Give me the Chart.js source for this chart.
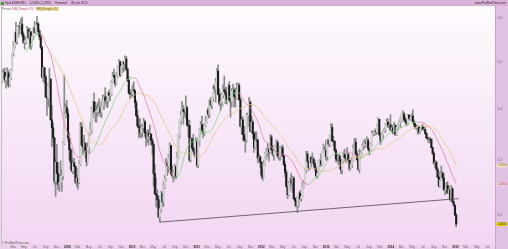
<!DOCTYPE html>
<html>
<head>
<meta charset="utf-8">
<script src="https://cdn.jsdelivr.net/npm/chart.js"></script>
<style>
  html, body { margin: 0; padding: 0; background: #e4c4e4; }
  #wrap { position: relative; width: 508px; height: 249px; overflow: hidden; font-family: "Liberation Sans", Arial, sans-serif; }
  canvas { display: block; }
  .txt { position: absolute; white-space: nowrap; font-size: 3px; line-height: 4px; color: #333; }
  .ico { display: inline-block; width: 3px; height: 3px; background: #3a9a3a; margin-right: 1px; vertical-align: -0.5px; }
  .gap { display: inline-block; width: 4px; }
  .pk { color: #c0506e; margin-left: 1px; }
  .yl { color: #7a6420; background: #efe0a6; margin-left: 2px; padding: 0 1px; }
</style>
</head>
<body>
<div id="wrap">
  <canvas id="chart" width="508" height="249"></canvas>
  <div class="txt" style="left:1px;top:1px"><span class="ico"></span>Spot EUR/USD<span class="gap"></span>1,1840 (-1,33%)<span class="gap"></span>Semanal<span class="gap"></span>09 ene 2015</div>
  <div class="txt" style="left:2px;top:6.5px;color:#666">Precio:<span class="pk">MM (Simple 20)</span><span class="yl">MM (Simple 40)</span></div>
  <div class="txt" style="right:2px;top:1px">www.ProRealTime.com</div>
  <div class="txt" style="left:2px;top:241px;color:#555">© ProRealTime.com</div>
</div>
<script>
  // EUR/USD weekly candles, week 0 = 31 dic 2007 ... week 366 = 05 ene 2015
  var opens = [
    1.4590,1.4760,1.4780,1.4620,1.4680,1.4770,1.4500,1.4670,1.4820,1.5190,
    1.5350,1.5660,1.5450,1.5790,1.5820,1.5800,1.5860,1.5620,1.5440,1.5470,
    1.5500,1.5730,1.5550,1.5680,1.5360,1.5580,1.5760,1.5660,1.5870,1.5860,
    1.5690,1.5560,1.5330,1.4680,1.4880,1.4680,1.4260,1.4230,1.4480,1.4630,
    1.3790,1.3630,1.3430,1.2610,1.2960,1.2750,1.2550,1.2580,1.2690,1.2710,
    1.3320,1.3890,1.4040,1.3920,1.3430,1.3200,1.2970,1.2800,1.2950,1.2880,
    1.2590,1.2660,1.2580,1.2920,1.3650,1.3290,1.3260,1.3320,1.3180,1.2970,
    1.3250,1.3490,1.3590,1.4000,1.4150,1.3950,1.3950,1.3960,1.4000,1.4040,
    1.3940,1.4070,1.4190,1.4260,1.4180,1.4180,1.4330,1.4290,1.4300,1.4570,
    1.4720,1.4680,1.4540,1.4700,1.4900,1.5010,1.4720,1.4910,1.5000,1.4960,
    1.5070,1.4850,1.4610,1.4340,1.4330,1.4320,1.4410,1.4380,1.4140,1.3870,
    1.3670,1.3630,1.3530,1.3630,1.3640,1.3750,1.3530,1.3420,1.3520,1.3460,
    1.3500,1.3380,1.3300,1.2750,1.2380,1.2350,1.2270,1.1970,1.2110,1.2390,
    1.2230,1.2510,1.2640,1.2940,1.2890,1.3050,1.3280,1.2750,1.2710,1.2760,
    1.2880,1.2700,1.3050,1.3490,1.3780,1.3880,1.4000,1.3960,1.3940,1.4040,
    1.3690,1.3670,1.3000,1.3410,1.3230,1.3180,1.3100,1.3360,1.2910,1.3380,
    1.3610,1.3690,1.3590,1.3530,1.3680,1.3750,1.3990,1.3900,1.4180,1.4090,
    1.4230,1.4470,1.4430,1.4580,1.4810,1.4310,1.4130,1.4160,1.4300,1.4410,
    1.4370,1.4300,1.4190,1.4500,1.4200,1.4150,1.4380,1.4400,1.4270,1.4240,
    1.4380,1.4500,1.4200,1.3660,1.3790,1.3500,1.3390,1.3380,1.3880,1.3890,
    1.4150,1.3560,1.3740,1.3520,1.3240,1.3390,1.3380,1.3040,1.3060,1.2960,
    1.2720,1.2680,1.2930,1.3130,1.3150,1.3200,1.3150,1.3450,1.3200,1.3120,
    1.3180,1.3270,1.3340,1.3080,1.3080,1.3230,1.3240,1.3080,1.2920,1.2770,
    1.2510,1.2360,1.2570,1.2640,1.2570,1.2660,1.2290,1.2250,1.2160,1.2320,
    1.2390,1.2290,1.2330,1.2510,1.2580,1.2820,1.3120,1.2980,1.2860,1.3040,
    1.2950,1.3020,1.2940,1.2840,1.2710,1.2750,1.2980,1.2990,1.2930,1.3160,
    1.3180,1.3190,1.3070,1.3380,1.3310,1.3460,1.3640,1.3370,1.3360,1.3190,
    1.3020,1.3000,1.3080,1.2990,1.2820,1.2990,1.3110,1.3050,1.3030,1.3110,
    1.2990,1.2840,1.2930,1.2990,1.3220,1.3350,1.3120,1.3010,1.2830,1.3070,
    1.3140,1.3280,1.3280,1.3340,1.3330,1.3380,1.3220,1.3180,1.3300,1.3520,
    1.3520,1.3560,1.3550,1.3680,1.3800,1.3490,1.3370,1.3500,1.3560,1.3590,
    1.3700,1.3740,1.3670,1.3690,1.3590,1.3630,1.3540,1.3680,1.3490,1.3640,
    1.3690,1.3740,1.3800,1.3910,1.3910,1.3790,1.3750,1.3700,1.3880,1.3810,
    1.3830,1.3870,1.3750,1.3700,1.3630,1.3630,1.3640,1.3540,1.3610,1.3650,
    1.3600,1.3600,1.3520,1.3430,1.3410,1.3410,1.3400,1.3240,1.3130,1.2950,
    1.2960,1.2830,1.2680,1.2520,1.2630,1.2760,1.2670,1.2450,1.2450,1.2530,
    1.2390,1.2450,1.2290,1.2470,1.2230,1.2170,1.2000
  ];
  var highs = [
    1.4820,1.4860,1.4870,1.4750,1.4880,1.4830,1.4700,1.4850,1.5200,1.5460,
    1.5680,1.5900,1.5820,1.5830,1.5910,1.5980,1.6020,1.5680,1.5570,1.5560,
    1.5800,1.5760,1.5770,1.5690,1.5600,1.5780,1.5920,1.5880,1.6040,1.5900,
    1.5730,1.5610,1.5350,1.4900,1.4880,1.4720,1.4290,1.4550,1.4870,1.4650,
    1.4080,1.3730,1.3450,1.3020,1.3300,1.2950,1.2720,1.2990,1.2820,1.3360,
    1.4720,1.4120,1.4190,1.4000,1.3530,1.3240,1.3200,1.3040,1.3030,1.2900,
    1.2850,1.2720,1.3000,1.3740,1.3730,1.3410,1.3480,1.3350,1.3250,1.3340,
    1.3520,1.3740,1.4050,1.4170,1.4340,1.4160,1.4090,1.4140,1.4220,1.4080,
    1.4170,1.4300,1.4290,1.4450,1.4270,1.4350,1.4400,1.4360,1.4600,1.4780,
    1.4850,1.4710,1.4780,1.4920,1.5060,1.5030,1.4950,1.5010,1.5020,1.5140,
    1.5130,1.4860,1.4690,1.4400,1.4420,1.4510,1.4580,1.4410,1.4190,1.3990,
    1.3800,1.3820,1.3690,1.3700,1.3820,1.3780,1.3540,1.3590,1.3590,1.3690,
    1.3520,1.3420,1.3330,1.2920,1.2670,1.2450,1.2330,1.2140,1.2420,1.2390,
    1.2600,1.2720,1.3030,1.3000,1.3110,1.3330,1.3290,1.2900,1.2800,1.2920,
    1.2890,1.3160,1.3500,1.3790,1.3970,1.4160,1.4080,1.4020,1.4280,1.4070,
    1.3790,1.3780,1.3430,1.3440,1.3500,1.3240,1.3440,1.3390,1.3390,1.3620,
    1.3760,1.3860,1.3700,1.3710,1.3860,1.4000,1.4040,1.4200,1.4250,1.4250,
    1.4490,1.4520,1.4650,1.4860,1.4940,1.4430,1.4350,1.4320,1.4520,1.4700,
    1.4450,1.4460,1.4510,1.4580,1.4230,1.4430,1.4530,1.4450,1.4440,1.4550,
    1.4550,1.4550,1.4250,1.3850,1.3850,1.3660,1.3460,1.3920,1.3930,1.4250,
    1.4180,1.3870,1.3790,1.3550,1.3550,1.3550,1.3410,1.3120,1.3080,1.2980,
    1.2830,1.3000,1.3150,1.3230,1.3320,1.3240,1.3490,1.3490,1.3280,1.3220,
    1.3290,1.3390,1.3380,1.3200,1.3260,1.3270,1.3290,1.3110,1.2980,1.2820,
    1.2520,1.2600,1.2670,1.2750,1.2700,1.2690,1.2320,1.2310,1.2330,1.2400,
    1.2440,1.2360,1.2590,1.2620,1.2830,1.3170,1.3170,1.3000,1.3060,1.3080,
    1.3140,1.3050,1.3000,1.2880,1.2800,1.2990,1.3010,1.3120,1.3170,1.3310,
    1.3260,1.3380,1.3400,1.3410,1.3480,1.3710,1.3710,1.3460,1.3380,1.3220,
    1.3130,1.3120,1.3100,1.3020,1.3000,1.3140,1.3210,1.3110,1.3240,1.3140,
    1.3000,1.3000,1.3060,1.3300,1.3420,1.3420,1.3180,1.3080,1.3210,1.3180,
    1.3300,1.3350,1.3400,1.3390,1.3450,1.3420,1.3230,1.3330,1.3570,1.3560,
    1.3590,1.3610,1.3700,1.3830,1.3800,1.3530,1.3530,1.3580,1.3620,1.3720,
    1.3810,1.3810,1.3720,1.3890,1.3680,1.3690,1.3740,1.3690,1.3650,1.3710,
    1.3770,1.3830,1.3920,1.3970,1.3940,1.3850,1.3810,1.3900,1.3900,1.3870,
    1.3910,1.3993,1.3790,1.3730,1.3670,1.3680,1.3650,1.3620,1.3670,1.3700,
    1.3650,1.3640,1.3530,1.3450,1.3440,1.3440,1.3410,1.3250,1.3160,1.2990,
    1.2990,1.2860,1.2700,1.2790,1.2890,1.2780,1.2750,1.2530,1.2580,1.2600,
    1.2530,1.2460,1.2530,1.2490,1.2250,1.2180,1.2030
  ];
  var lows = [
    1.4560,1.4660,1.4570,1.4440,1.4650,1.4460,1.4470,1.4620,1.4810,1.5130,
    1.5310,1.5420,1.5400,1.5560,1.5630,1.5740,1.5570,1.5420,1.5290,1.5400,
    1.5490,1.5510,1.5310,1.5280,1.5350,1.5500,1.5650,1.5640,1.5850,1.5620,
    1.5500,1.5290,1.4660,1.4580,1.4540,1.4250,1.3880,1.4050,1.4440,1.3780,
    1.3260,1.3350,1.2550,1.2330,1.2550,1.2450,1.2420,1.2560,1.2420,1.2640,
    1.3300,1.3820,1.3860,1.3360,1.3020,1.2830,1.2780,1.2740,1.2780,1.2560,
    1.2510,1.2460,1.2560,1.2900,1.3250,1.3110,1.3160,1.3040,1.2890,1.2960,
    1.3120,1.3470,1.3510,1.3830,1.3930,1.3750,1.3740,1.3870,1.3930,1.3860,
    1.3830,1.4050,1.4000,1.4130,1.4050,1.4040,1.4170,1.4180,1.4280,1.4550,
    1.4580,1.4480,1.4520,1.4670,1.4830,1.4680,1.4710,1.4770,1.4800,1.4830,
    1.4820,1.4580,1.4310,1.4220,1.4270,1.4250,1.4360,1.4030,1.3860,1.3640,
    1.3440,1.3440,1.3430,1.3450,1.3550,1.3460,1.3270,1.3340,1.3290,1.3400,
    1.3290,1.3110,1.2520,1.2360,1.2140,1.2140,1.1950,1.1876,1.2050,1.2150,
    1.2150,1.2470,1.2610,1.2710,1.2770,1.3010,1.2730,1.2670,1.2590,1.2660,
    1.2650,1.2700,1.3030,1.3430,1.3680,1.3870,1.3700,1.3860,1.3810,1.3650,
    1.3450,1.2970,1.2970,1.3170,1.3150,1.3060,1.3080,1.2870,1.2860,1.3270,
    1.3510,1.3580,1.3430,1.3480,1.3650,1.3730,1.3830,1.3830,1.4060,1.4010,
    1.4160,1.4340,1.4150,1.4570,1.4300,1.4080,1.3970,1.4060,1.4240,1.4340,
    1.4120,1.4110,1.4190,1.4180,1.3840,1.4050,1.4320,1.4050,1.4050,1.4210,
    1.4300,1.4190,1.3650,1.3500,1.3370,1.3360,1.3150,1.3350,1.3650,1.3770,
    1.3550,1.3530,1.3420,1.3150,1.3220,1.3260,1.2950,1.2990,1.2860,1.2660,
    1.2620,1.2670,1.2900,1.3020,1.3080,1.2980,1.3130,1.3170,1.3080,1.3000,
    1.3150,1.3250,1.3040,1.3000,1.3000,1.3120,1.3060,1.2890,1.2690,1.2500,
    1.2290,1.2340,1.2440,1.2520,1.2400,1.2270,1.2170,1.2140,1.2042,1.2140,
    1.2270,1.2240,1.2320,1.2480,1.2560,1.2760,1.2950,1.2800,1.2830,1.2870,
    1.2950,1.2880,1.2800,1.2680,1.2660,1.2740,1.2880,1.2880,1.2920,1.3160,
    1.3150,1.3000,1.3000,1.3260,1.3260,1.3430,1.3360,1.3270,1.3160,1.2970,
    1.2960,1.2920,1.2840,1.2750,1.2740,1.2950,1.2990,1.2950,1.3020,1.2970,
    1.2800,1.2830,1.2860,1.2970,1.3220,1.3110,1.2990,1.2810,1.2760,1.3030,
    1.3120,1.3190,1.3230,1.3250,1.3310,1.3180,1.3100,1.3170,1.3290,1.3470,
    1.3480,1.3490,1.3500,1.3680,1.3480,1.3300,1.3360,1.3400,1.3540,1.3540,
    1.3690,1.3630,1.3660,1.3570,1.3550,1.3510,1.3510,1.3480,1.3480,1.3580,
    1.3680,1.3640,1.3740,1.3820,1.3760,1.3720,1.3670,1.3690,1.3780,1.3780,
    1.3820,1.3740,1.3650,1.3620,1.3590,1.3500,1.3530,1.3520,1.3570,1.3590,
    1.3570,1.3500,1.3420,1.3370,1.3330,1.3340,1.3230,1.3110,1.2920,1.2860,
    1.2810,1.2670,1.2500,1.2500,1.2620,1.2620,1.2440,1.2360,1.2400,1.2380,
    1.2390,1.2250,1.2270,1.2220,1.2160,1.1990,1.1790
  ];
  var closes = [
    1.4760,1.4780,1.4620,1.4680,1.4770,1.4500,1.4670,1.4820,1.5190,1.5350,
    1.5660,1.5450,1.5790,1.5820,1.5800,1.5860,1.5620,1.5440,1.5470,1.5500,
    1.5730,1.5550,1.5680,1.5360,1.5580,1.5760,1.5660,1.5870,1.5860,1.5690,
    1.5560,1.5330,1.4680,1.4880,1.4680,1.4260,1.4230,1.4480,1.4630,1.3790,
    1.3630,1.3430,1.2610,1.2960,1.2750,1.2550,1.2580,1.2690,1.2710,1.3320,
    1.3890,1.4040,1.3920,1.3430,1.3200,1.2970,1.2800,1.2950,1.2880,1.2590,
    1.2660,1.2580,1.2920,1.3650,1.3290,1.3260,1.3320,1.3180,1.2970,1.3250,
    1.3490,1.3590,1.4000,1.4150,1.3950,1.3950,1.3960,1.4000,1.4040,1.3940,
    1.4070,1.4190,1.4260,1.4180,1.4180,1.4330,1.4290,1.4300,1.4570,1.4720,
    1.4680,1.4540,1.4700,1.4900,1.5010,1.4720,1.4910,1.5000,1.4960,1.5070,
    1.4850,1.4610,1.4340,1.4330,1.4320,1.4410,1.4380,1.4140,1.3870,1.3670,
    1.3630,1.3530,1.3630,1.3640,1.3750,1.3530,1.3420,1.3520,1.3460,1.3500,
    1.3380,1.3300,1.2750,1.2380,1.2350,1.2270,1.1970,1.2110,1.2390,1.2230,
    1.2510,1.2640,1.2940,1.2890,1.3050,1.3280,1.2750,1.2710,1.2760,1.2880,
    1.2700,1.3050,1.3490,1.3780,1.3880,1.4000,1.3960,1.3940,1.4040,1.3690,
    1.3670,1.3000,1.3410,1.3230,1.3180,1.3100,1.3360,1.2910,1.3380,1.3610,
    1.3690,1.3590,1.3530,1.3680,1.3750,1.3990,1.3900,1.4180,1.4090,1.4230,
    1.4470,1.4430,1.4580,1.4810,1.4310,1.4130,1.4160,1.4300,1.4410,1.4370,
    1.4300,1.4190,1.4500,1.4200,1.4150,1.4380,1.4400,1.4270,1.4240,1.4380,
    1.4500,1.4200,1.3660,1.3790,1.3500,1.3390,1.3380,1.3880,1.3890,1.4150,
    1.3560,1.3740,1.3520,1.3240,1.3390,1.3380,1.3040,1.3060,1.2960,1.2720,
    1.2680,1.2930,1.3130,1.3150,1.3200,1.3150,1.3450,1.3200,1.3120,1.3180,
    1.3270,1.3340,1.3080,1.3080,1.3230,1.3240,1.3080,1.2920,1.2770,1.2510,
    1.2360,1.2570,1.2640,1.2570,1.2660,1.2290,1.2250,1.2160,1.2320,1.2390,
    1.2290,1.2330,1.2510,1.2580,1.2820,1.3120,1.2980,1.2860,1.3040,1.2950,
    1.3020,1.2940,1.2840,1.2710,1.2750,1.2980,1.2990,1.2930,1.3160,1.3180,
    1.3190,1.3070,1.3380,1.3310,1.3460,1.3640,1.3370,1.3360,1.3190,1.3020,
    1.3000,1.3080,1.2990,1.2820,1.2990,1.3110,1.3050,1.3030,1.3110,1.2990,
    1.2840,1.2930,1.2990,1.3220,1.3350,1.3120,1.3010,1.2830,1.3070,1.3140,
    1.3280,1.3280,1.3340,1.3330,1.3380,1.3220,1.3180,1.3300,1.3520,1.3520,
    1.3560,1.3550,1.3680,1.3800,1.3490,1.3370,1.3500,1.3560,1.3590,1.3700,
    1.3740,1.3670,1.3690,1.3590,1.3630,1.3540,1.3680,1.3490,1.3640,1.3690,
    1.3740,1.3800,1.3910,1.3910,1.3790,1.3750,1.3700,1.3880,1.3810,1.3830,
    1.3870,1.3750,1.3700,1.3630,1.3630,1.3640,1.3540,1.3610,1.3650,1.3600,
    1.3600,1.3520,1.3430,1.3410,1.3410,1.3400,1.3240,1.3130,1.2950,1.2960,
    1.2830,1.2680,1.2520,1.2630,1.2760,1.2670,1.2450,1.2450,1.2530,1.2390,
    1.2450,1.2290,1.2470,1.2230,1.2170,1.2000,1.1840
  ];

  // moving averages read every 4 weeks (MM 20 from week 19, MM 40 from week 39)
  var ma20 = [
    1.5228,1.5402,1.5607,1.5647,1.5408,1.5163,1.4679,1.4064,1.3640,1.3391,
    1.3095,1.3054,1.3178,1.3145,1.3272,1.3508,1.3752,1.3955,1.4215,1.4379,
    1.4579,1.4651,1.4658,1.4468,1.4229,1.3927,1.3611,1.3183,1.2937,1.2817,
    1.2677,1.2738,1.3092,1.3323,1.3361,1.3469,1.3543,1.3545,1.3686,1.3931,
    1.4130,1.4265,1.4334,1.4339,1.4165,1.4068,1.3911,1.3695,1.3393,1.3308,
    1.3190,1.3126,1.3106,1.3052,1.2928,1.2737,1.2584,1.2549,1.2636,1.2692,
    1.2849,1.3011,1.3114,1.3131,1.3162,1.3158,1.3110,1.3034,1.3058,1.3126,
    1.3193,1.3323,1.3404,1.3500,1.3559,1.3608,1.3647,1.3707,1.3735,1.3742,
    1.3737,1.3667,1.3570,1.3378,1.3177,1.2948,1.2722,1.2560
  ];
  var ma40 = [
    1.5196,1.5041,1.4836,1.4644,1.4400,1.4129,1.3867,1.3621,1.3393,1.3332,
    1.3302,1.3403,1.3567,1.3680,1.3826,1.4044,1.4202,1.4307,1.4342,1.4304,
    1.4253,1.4131,1.3921,1.3703,1.3523,1.3302,1.3175,1.3138,1.3130,1.3089,
    1.3073,1.3141,1.3319,1.3505,1.3646,1.3800,1.3904,1.3940,1.4013,1.4048,
    1.4099,1.4088,1.4015,1.3866,1.3737,1.3629,1.3519,1.3401,1.3223,1.3118,
    1.2964,1.2855,1.2828,1.2844,1.2810,1.2793,1.2798,1.2832,1.2884,1.2927,
    1.3004,1.3061,1.3074,1.3095,1.3144,1.3176,1.3217,1.3219,1.3279,1.3343,
    1.3401,1.3485,1.3556,1.3618,1.3651,1.3673,1.3657,1.3639,1.3557,1.3400,
    1.3250,1.3070,1.2900
  ];

  // support line drawn through the 2010 low
  var trendWeeks = [127, 368];
  var trendPrices = [1.1876, 1.2290];

  var yTicks = [1.2, 1.3, 1.4, 1.5, 1.6];
  var monthNames = ['Ene', 'Mar', 'May', 'Jul', 'Sep', 'Nov'];
  var years = [2008, 2009, 2010, 2011, 2012, 2013, 2014, 2015];

  var lastWeek = closes.length - 1;
  var fontFam = '"Liberation Sans", Arial, sans-serif';

  // bottom axis: every second month, measured in weeks from 31 dic 2007
  var xTicks = [];
  var t0 = Date.UTC(2007, 11, 31);
  years.forEach(function (y) {
    for (var m = 0; m < 12; m += 2) {
      var w = (Date.UTC(y, m, 1) - t0) / (7 * 86400000);
      if (w < 5 || w > 392) continue;
      xTicks.push({ week: w, label: m === 0 ? String(y) : monthNames[m / 2], year: m === 0 });
    }
  });

  var wicks = highs.map(function (h, i) { return { x: i, y: [lows[i], h] }; });
  var bodies = closes.map(function (c, i) { return { x: i, y: [opens[i], c] }; });
  var bodyColors = closes.map(function (c, i) { return c < opens[i] ? '#1c1c1c' : '#d2d2d2'; });
  var ma20pts = ma20.map(function (v, k) { return { x: Math.min(19 + 4 * k, lastWeek), y: v }; });
  var ma40pts = ma40.map(function (v, k) { return { x: Math.min(39 + 4 * k, lastWeek), y: v }; });
  var trendPts = trendWeeks.map(function (w, k) { return { x: w, y: trendPrices[k] }; });

  function fmt(v, d) { return v.toFixed(d).replace('.', ','); }

  var bgPlugin = {
    id: 'bg',
    beforeDraw: function (chart) {
      var ctx = chart.ctx, a = chart.chartArea;
      ctx.save();
      ctx.fillStyle = '#e2c2e2';
      ctx.fillRect(0, 0, chart.width, chart.height);
      var g = ctx.createLinearGradient(0, a.top, 0, a.bottom);
      g.addColorStop(0, '#fefbfe');
      g.addColorStop(1, '#f2d6f2');
      ctx.fillStyle = g;
      ctx.fillRect(0, a.top, a.right, a.bottom - a.top);
      ctx.fillStyle = '#ecd0ec';
      ctx.fillRect(0, a.bottom, a.right, chart.height - a.bottom);
      ctx.fillStyle = '#d8b0d8';
      ctx.fillRect(0, 0, chart.width, a.top);
      ctx.fillStyle = '#c8a4c8';
      ctx.fillRect(a.right, a.top, 1, chart.height - a.top);
      ctx.fillStyle = '#bfbfbf';
      ctx.fillRect(1, a.top, 1, a.bottom - a.top);
      ctx.restore();
    },
    afterDraw: function (chart) {
      var ctx = chart.ctx, a = chart.chartArea, ys = chart.scales.y;
      var tags = [
        { v: ma40[ma40.length - 1], bg: '#f1e6c2', fg: '#7a6a30' },
        { v: ma20[ma20.length - 1], bg: '#f6d2dd', fg: '#a84868' },
        { v: closes[lastWeek], bg: '#e8d000', fg: '#333333' }
      ];
      ctx.save();
      ctx.font = '3px ' + fontFam;
      ctx.textBaseline = 'middle';
      tags.forEach(function (t) {
        var y = ys.getPixelForValue(t.v);
        ctx.fillStyle = t.bg;
        ctx.fillRect(a.right + 1.5, y - 2, 10, 4);
        ctx.fillStyle = t.fg;
        ctx.fillText(fmt(t.v, 4), a.right + 2.2, y + 0.2);
      });
      ctx.restore();
    }
  };

  var chart = new Chart(document.getElementById('chart'), {
    type: 'bar',
    data: {
      datasets: [
        {
          type: 'line', label: 'Soporte', data: trendPts,
          borderColor: '#4a4a4a', borderWidth: 0.8, pointRadius: 0, order: 0
        },
        {
          type: 'line', label: 'MM 20', data: ma20pts,
          borderColor: '#e4849f', borderWidth: 0.8, pointRadius: 0,
          cubicInterpolationMode: 'monotone', order: 1,
          segment: {
            borderColor: function (c) { return c.p1.parsed.y >= c.p0.parsed.y ? '#86d486' : '#e4849f'; }
          }
        },
        {
          type: 'line', label: 'MM 40', data: ma40pts,
          borderColor: '#e4c78e', borderWidth: 0.8, pointRadius: 0,
          cubicInterpolationMode: 'monotone', order: 1
        },
        {
          label: 'Cuerpo', data: bodies, backgroundColor: bodyColors,
          barThickness: 1.4, grouped: false, order: 2
        },
        {
          label: 'Mecha', data: wicks, backgroundColor: '#8a8a8a',
          barThickness: 1, grouped: false, order: 3
        }
      ]
    },
    options: {
      responsive: false,
      animation: false,
      devicePixelRatio: 1,
      layout: { padding: { left: 2, top: 6, right: 0, bottom: 0 } },
      plugins: { legend: { display: false }, tooltip: { enabled: false } },
      scales: {
        x: {
          type: 'linear', min: -0.24, max: 397.3, offset: false,
          grid: { display: false, drawTicks: false },
          border: { display: false },
          afterBuildTicks: function (s) { s.ticks = xTicks.map(function (t) { return { value: t.week }; }); },
          afterFit: function (s) { s.height = 4; },
          ticks: {
            autoSkip: false, maxRotation: 0, minRotation: 0, padding: 0.5,
            callback: function (v, i) { return xTicks[i].label; },
            font: function (c) {
              var t = xTicks[c.index];
              return { size: 3, family: fontFam, weight: t && t.year ? 'bold' : 'normal' };
            },
            color: function (c) { var t = xTicks[c.index]; return t && t.year ? '#222' : '#666'; }
          }
        },
        y: {
          type: 'logarithmic', position: 'right', min: 1.1487, max: 1.6283,
          grid: { display: false, drawTicks: false },
          border: { display: false },
          afterBuildTicks: function (s) { s.ticks = yTicks.map(function (v) { return { value: v }; }); },
          afterFit: function (s) { s.width = 13; },
          ticks: {
            padding: 2,
            callback: function (v) { return fmt(v, 1); },
            font: { size: 3.5, family: fontFam },
            color: '#666'
          }
        }
      }
    },
    plugins: [bgPlugin]
  });
</script>
</body>
</html>
